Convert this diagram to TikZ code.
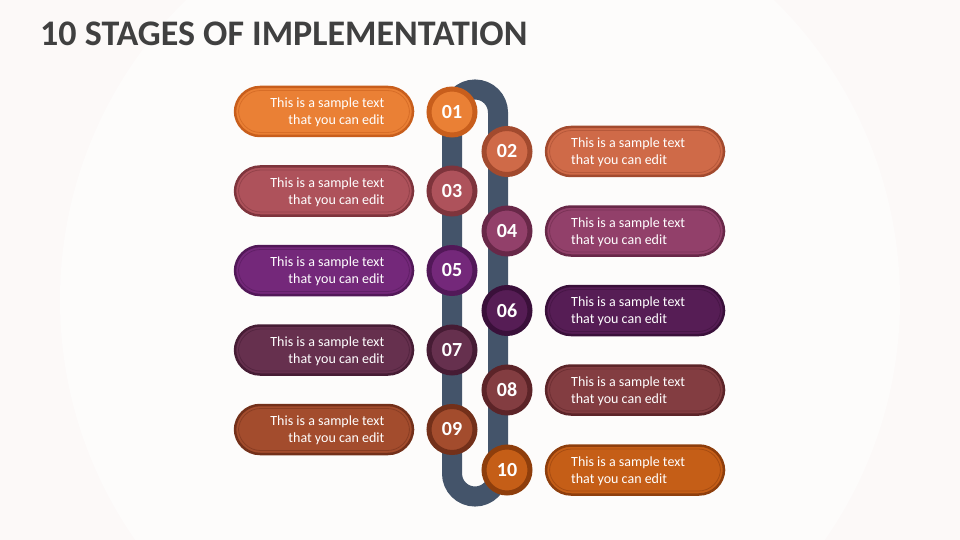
\documentclass[tikz,border=0pt]{standalone}
\usepackage{fontspec}
\setmainfont{Carlito}
\definecolor{bgc}{HTML}{FCF9F8}
\definecolor{trackc}{HTML}{44546A}
\definecolor{titlec}{HTML}{404040}
\definecolor{c1}{HTML}{EA8035}\definecolor{d1}{HTML}{C85E1C}
\definecolor{c2}{HTML}{CF6A48}\definecolor{d2}{HTML}{A24A2E}
\definecolor{c3}{HTML}{AE525B}\definecolor{d3}{HTML}{7E343C}
\definecolor{c4}{HTML}{92406A}\definecolor{d4}{HTML}{682848}
\definecolor{c5}{HTML}{74287A}\definecolor{d5}{HTML}{521858}
\definecolor{c6}{HTML}{561D55}\definecolor{d6}{HTML}{3A103A}
\definecolor{c7}{HTML}{66304E}\definecolor{d7}{HTML}{461C34}
\definecolor{c8}{HTML}{833D41}\definecolor{d8}{HTML}{5C2428}
\definecolor{c9}{HTML}{A34C2D}\definecolor{d9}{HTML}{73301A}
\definecolor{c10}{HTML}{C55E17}\definecolor{d10}{HTML}{8E3E0C}
\begin{document}
\begin{tikzpicture}[x=1pt,y=-1pt,
  pill/.style={rectangle, rounded corners=25pt, minimum width=178pt, minimum height=49pt, line width=2.5pt, inner sep=0pt},
  pillin/.style={rectangle, rounded corners=22pt, minimum width=171pt, minimum height=42pt, line width=0.8pt, inner sep=0pt},
  numc/.style={circle, minimum size=46pt, line width=5pt, inner sep=0pt, text=white, font=\fontsize{20}{24}\selectfont\bfseries},
  boxtext/.style={text=white, font=\fontsize{14}{17}\selectfont, inner sep=0pt},
  track/.style={draw=trackc, line width=20pt, rounded corners=23pt}]
\useasboundingbox (0,0) rectangle (960,540);
\fill[bgc] (0,0) rectangle (960,540);
\begin{scope}
\clip (0,0) rectangle (960,540);
\fill[white, opacity=0.5] (480,300) circle[radius=420pt];
\end{scope}
\node[anchor=base west, text=titlec, font=\fontsize{36}{40}\selectfont\bfseries, inner sep=0pt] (title) at (40,46) {10 STAGES OF IMPLEMENTATION};
\draw[track] (452,89.5) rectangle (498,496.5);
\foreach \i/\y in {1/111.5, 3/191, 5/270.5, 7/350, 9/429.5} {
  \node[pill, fill=c\i, draw=d\i] (b\i) at (324,\y) {};
  \node[pillin, draw=d\i!55!c\i] (bi\i) at (324,\y) {};
  \node[boxtext, anchor=east, align=right] (t\i) at (384.5,\y+1) {This is a sample text\\that you can edit};
}
\foreach \i/\y in {2/151.5, 4/231, 6/310.5, 8/390, 10/470} {
  \node[pill, fill=c\i, draw=d\i] (b\i) at (635,\y) {};
  \node[pillin, draw=d\i!55!c\i] (bi\i) at (635,\y) {};
  \node[boxtext, anchor=west, align=left] (t\i) at (571,\y+1) {This is a sample text\\that you can edit};
}
\node[numc, fill=c1, draw=d1] (n1) at (452,112) {01};
\node[numc, fill=c2, draw=d2] (n2) at (507,151.5) {02};
\node[numc, fill=c3, draw=d3] (n3) at (452,191) {03};
\node[numc, fill=c4, draw=d4] (n4) at (507,231) {04};
\node[numc, fill=c5, draw=d5] (n5) at (452,270.5) {05};
\node[numc, fill=c6, draw=d6] (n6) at (507,310.5) {06};
\node[numc, fill=c7, draw=d7] (n7) at (452,350) {07};
\node[numc, fill=c8, draw=d8] (n8) at (507,390) {08};
\node[numc, fill=c9, draw=d9] (n9) at (452,429.5) {09};
\node[numc, fill=c10, draw=d10] (n10) at (507,470) {10};
\end{tikzpicture}
\end{document}
